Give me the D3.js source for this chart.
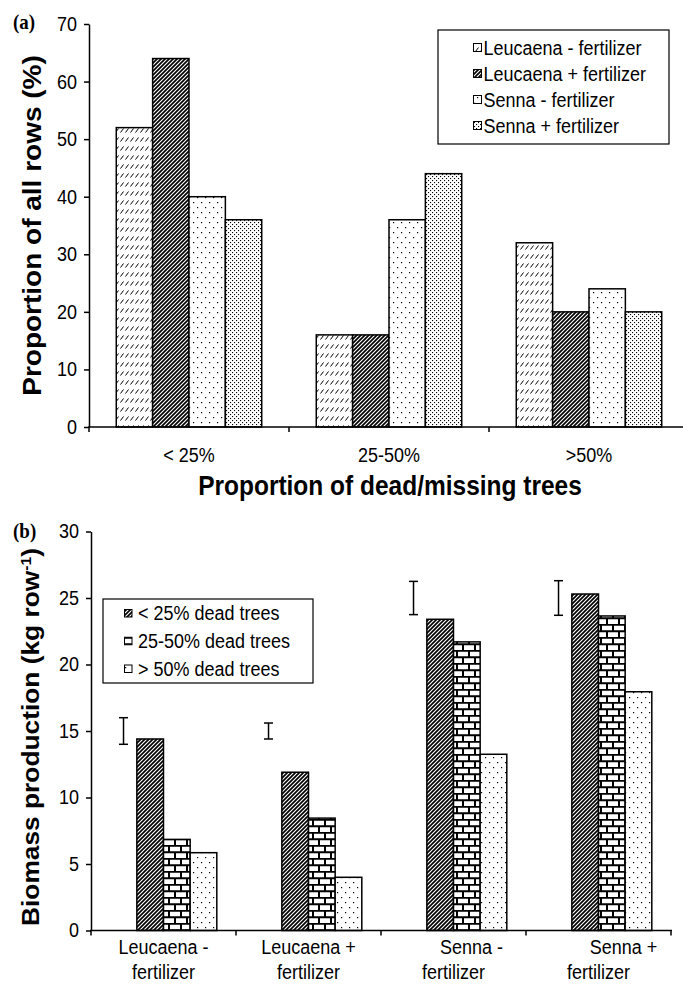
<!DOCTYPE html>
<html><head><meta charset="utf-8">
<script src="https://cdn.jsdelivr.net/npm/d3@7"></script>
<style>
body{margin:0;background:#fff}
svg{display:block}
text{font-family:"Liberation Sans",Arial,sans-serif;fill:#000}
</style>
</head><body><svg id="c" width="683" height="985"></svg>
<script>
// ---------- DATA ----------
const aCategories = ["< 25%", "25-50%", ">50%"];
const aSeries = ["Leucaena - fertilizer", "Leucaena + fertilizer", "Senna - fertilizer", "Senna + fertilizer"];
const aLeucaenaMinus = [52, 16, 32];
const aLeucaenaPlus = [64, 16, 20];
const aSennaMinus = [40, 36, 24];
const aSennaPlus = [36, 44, 20];
const aTicks = [0, 10, 20, 30, 40, 50, 60, 70];
const aYTitle = "Proportion of all rows (%)";
const aXTitle = "Proportion of dead/missing trees";

const bCategories = [["Leucaena -", "fertilizer"], ["Leucaena +", "fertilizer"], ["Senna -", "fertilizer"], ["Senna +", "fertilizer"]];
const bSeries = ["< 25% dead trees", "25-50% dead trees", "> 50% dead trees"];
const bLess25 = [14.4, 11.9, 23.4, 25.3];
const b25to50 = [6.85, 8.45, 21.7, 23.65];
const bOver50 = [5.85, 4.0, 13.25, 17.95];
const bErrLow = [14.0, 14.4, 23.75, 23.7];
const bErrHigh = [16.0, 15.6, 26.25, 26.3];
const bTicks = [0, 5, 10, 15, 20, 25, 30];

// ---------- SETUP ----------
const svg = d3.select("#c");
const K = 1.12; // vertical stretch of the lettering
const defs = svg.append("defs");

function pat(id, w, h, draw) {
  const p = defs.append("pattern").attr("id", id).attr("patternUnits", "userSpaceOnUse")
    .attr("width", w).attr("height", h);
  p.append("rect").attr("width", w).attr("height", h).attr("fill", "#fff");
  draw(p);
}
pat("pLight", 5, 9, p => p.append("path").attr("d", "M0.5,6.5L3.5,2.5").attr("stroke", "#000").attr("stroke-width", 1));
pat("pDark", 4, 4, p => p.append("path").attr("d", "M-1,1L1,-1M0,4L4,0M3,5L5,3").attr("stroke", "#000").attr("stroke-width", 1.7));
pat("pSparse", 8, 10, p => {
  p.append("rect").attr("x", 1).attr("y", 2).attr("width", 1.2).attr("height", 1.2).attr("fill", "#000");
  p.append("rect").attr("x", 5).attr("y", 7).attr("width", 1.2).attr("height", 1.2).attr("fill", "#000");
});
pat("pDense", 4, 4, p => {
  p.append("rect").attr("x", 0).attr("y", 0).attr("width", 1.1).attr("height", 1.1).attr("fill", "#000");
  p.append("rect").attr("x", 2).attr("y", 2).attr("width", 1.1).attr("height", 1.1).attr("fill", "#000");
});
pat("pBrick", 12, 13, p => {
  p.append("path").attr("d", "M0,0.8H12M0,7.3H12M1,0V7.3M7,7.3V13")
    .attr("stroke", "#000").attr("stroke-width", 2).attr("fill", "none");
});

function txt(g, x, y, s, o = {}) {
  const t = g.append("text")
    .attr("transform", `translate(${x},${y})` + (o.rot ? ` rotate(-90) scale(${K},1)` : ` scale(1,${K})`))
    .attr("text-anchor", o.anchor || "start")
    .attr("font-size", o.size || 18)
    .attr("font-weight", o.bold ? "bold" : "normal");
  if (o.family) t.style("font-family", o.family);
  t.text(s);
  return t;
}

function yAxis(g, scale, ticks, x) {
  const ax = g.append("g").attr("transform", `translate(${x},0)`)
    .call(d3.axisLeft(scale).tickValues(ticks).tickSize(5).tickPadding(7).tickSizeOuter(0));
  ax.select(".domain").attr("stroke", "#000").attr("stroke-width", 1.5);
  ax.selectAll(".tick line").attr("stroke", "#000").attr("stroke-width", 1.5);
  ax.selectAll(".tick text").attr("font-size", 18).attr("fill", "#000")
    .style("font-family", '"Liberation Sans",Arial,sans-serif')
    .attr("transform", `scale(1,${K})`);
}

// ---------- PANEL A ----------
const gA = svg.append("g");
const yA = d3.scaleLinear().domain([0, 70]).range([427, 24]);
const xA = d3.scaleBand().domain(aCategories).range([89, 689]);
const xA1 = d3.scaleBand().domain(aSeries).range([0, xA.bandwidth()]).paddingOuter(0.75).paddingInner(0);
const aValues = [aLeucaenaMinus, aLeucaenaPlus, aSennaMinus, aSennaPlus];
const aFills = ["url(#pLight)", "url(#pDark)", "url(#pSparse)", "url(#pDense)"];

aSeries.forEach((s, si) => {
  gA.append("g").selectAll("rect").data(aCategories).join("rect")
    .attr("x", c => xA(c) + xA1(s))
    .attr("width", xA1.bandwidth())
    .attr("y", (c, i) => yA(aValues[si][i]))
    .attr("height", (c, i) => yA(0) - yA(aValues[si][i]))
    .attr("fill", aFills[si]).attr("stroke", "#000").attr("stroke-width", 1.5);
});
yAxis(gA, yA, aTicks, 89);
gA.append("line").attr("x1", 88).attr("x2", 689).attr("y1", yA(0)).attr("y2", yA(0))
  .attr("stroke", "#000").attr("stroke-width", 1.5);
gA.selectAll(".xt").data(aCategories).join("line").attr("class", "xt")
  .attr("x1", c => xA(c)).attr("x2", c => xA(c)).attr("y1", yA(0)).attr("y2", yA(0) + 5)
  .attr("stroke", "#000").attr("stroke-width", 1.5);
aCategories.forEach(c => txt(gA, xA(c) + xA.bandwidth() / 2, 462, c, { anchor: "middle", size: 18 }));
txt(gA, 390, 495, aXTitle, { anchor: "middle", size: 24.5, bold: true });
txt(gA, 41, (yA(0) + yA(70)) / 2, aYTitle, { anchor: "middle", size: 25, bold: true, rot: true });
txt(gA, 13, 29, "(a)", { size: 19, bold: true, family: '"Liberation Serif","Times New Roman",serif' });

// legend A
const legA = gA.append("g");
legA.append("rect").attr("x", 438).attr("y", 30).attr("width", 231).attr("height", 114)
  .attr("fill", "#fff").attr("stroke", "#000").attr("stroke-width", 1.2);
const legAy = d3.scalePoint().domain(aSeries).range([48, 126]);
aSeries.forEach((s, si) => {
  legA.append("rect").attr("x", 473.5).attr("y", legAy(s) - 4.5).attr("width", 8).attr("height", 8)
    .attr("fill", aFills[si]).attr("stroke", "#000").attr("stroke-width", 1);
  txt(legA, 483.5, legAy(s) + 6.5, s, { size: 18 });
});

// ---------- PANEL B ----------
const gB = svg.append("g");
const yB = d3.scaleLinear().domain([0, 30]).range([930.5, 531.5]);
const bIdx = bCategories.map((c, i) => i);
const xB = d3.scaleBand().domain(bIdx).range([91, 671]);
const xB1 = d3.scaleBand().domain(["err", ...bSeries]).range([0, xB.bandwidth()]).paddingOuter(0.72).paddingInner(0);
const bValues = [bLess25, b25to50, bOver50];
const bFills = ["url(#pDark)", "url(#pBrick)", "url(#pSparse)"];

bSeries.forEach((s, si) => {
  gB.append("g").selectAll("rect").data(bIdx).join("rect")
    .attr("x", i => xB(i) + xB1(s))
    .attr("width", xB1.bandwidth())
    .attr("y", i => yB(bValues[si][i]))
    .attr("height", i => yB(0) - yB(bValues[si][i]))
    .attr("fill", bFills[si]).attr("stroke", "#000").attr("stroke-width", 1.5);
});
// error bars
const eg = gB.append("g").attr("stroke", "#000").attr("stroke-width", 1.5);
bIdx.forEach(i => {
  const cx = xB(i) + xB1("err") + xB1.bandwidth() / 2;
  eg.append("line").attr("x1", cx).attr("x2", cx).attr("y1", yB(bErrLow[i])).attr("y2", yB(bErrHigh[i]));
  eg.append("line").attr("x1", cx - 4.5).attr("x2", cx + 4.5).attr("y1", yB(bErrLow[i])).attr("y2", yB(bErrLow[i]));
  eg.append("line").attr("x1", cx - 4.5).attr("x2", cx + 4.5).attr("y1", yB(bErrHigh[i])).attr("y2", yB(bErrHigh[i]));
});
yAxis(gB, yB, bTicks, 91);
gB.append("line").attr("x1", 90).attr("x2", 672).attr("y1", yB(0)).attr("y2", yB(0))
  .attr("stroke", "#000").attr("stroke-width", 1.5);
gB.selectAll(".xt").data([...bIdx.map(i => xB(i)), xB.range()[1]]).join("line").attr("class", "xt")
  .attr("x1", d => d).attr("x2", d => d).attr("y1", yB(0)).attr("y2", yB(0) + 5)
  .attr("stroke", "#000").attr("stroke-width", 1.5);
const firstLineShift = [0, 0, 18, 25];
bCategories.forEach((lines, i) => {
  const cx = xB(i) + xB.bandwidth() / 2;
  txt(gB, cx + firstLineShift[i], 954, lines[0], { anchor: "middle", size: 18 });
  txt(gB, cx, 979, lines[1], { anchor: "middle", size: 18 });
});
const bt = txt(gB, 39, (yB(0) + yB(30)) / 2 + 6, "", { anchor: "middle", size: 23.5, bold: true, rot: true });
bt.append("tspan").text("Biomass production (kg row");
bt.append("tspan").attr("font-size", 14).attr("baseline-shift", "super").text("-1");
bt.append("tspan").text(")");
txt(gB, 13, 538, "(b)", { size: 19, bold: true, family: '"Liberation Serif","Times New Roman",serif' });

// legend B
const legB = gB.append("g");
legB.append("rect").attr("x", 103).attr("y", 599).attr("width", 210).attr("height", 84)
  .attr("fill", "#fff").attr("stroke", "#000").attr("stroke-width", 1.2);
const legBy = d3.scalePoint().domain(bSeries).range([613.5, 669]);
bSeries.forEach((s, si) => {
  legB.append("rect").attr("x", 124.5).attr("y", legBy(s) - 4).attr("width", 7.5).attr("height", 7.5)
    .attr("fill", bFills[si]).attr("stroke", "#000").attr("stroke-width", 1);
  txt(legB, 138, legBy(s) + 6.5, s, { size: 18 });
});
</script>
</body></html>
